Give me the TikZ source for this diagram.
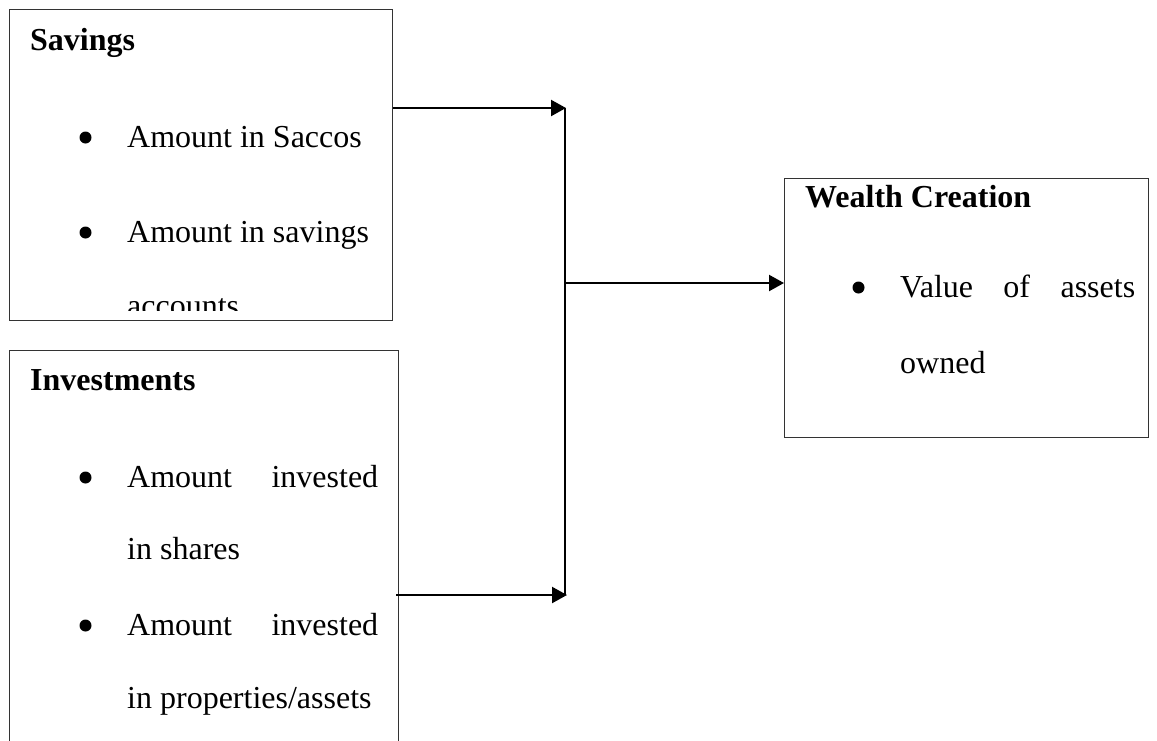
\documentclass[tikz,border=0pt]{standalone}
\usepackage{fontspec}
\setmainfont{Liberation Serif}
\usetikzlibrary{arrows.meta}
\tikzset{
  box/.style={draw=black!80, line width=1.3pt, rectangle, inner sep=0pt, anchor=north west},
  txt/.style={anchor=base west, inner sep=0pt, font=\fontsize{32}{32}\selectfont},
  head/.style={txt, font=\fontsize{32}{32}\selectfont\bfseries},
  bul/.style={circle, fill=black, inner sep=0pt, minimum size=12pt},
  conn/.style={line width=2.2pt, black},
  arr/.style={conn, -{Triangle[length=15pt,width=16pt]}}
}
\begin{document}
\begin{tikzpicture}[x=1pt,y=-1pt]
\useasboundingbox (0,0) rectangle (1157,740);
\clip (0,0) rectangle (1157,740);
% boxes
\node[box, minimum width=383pt, minimum height=311pt] (sav) at (9,9) {};
\node[box, minimum width=389pt, minimum height=420pt] (inv) at (9,350) {};
\node[box, minimum width=364pt, minimum height=259pt] (wel) at (784,178) {};
% savings text
\begin{scope}
\clip (9,9) rectangle (392,310);
\node[head] (savh) at (30,50) {Savings};
\node[bul] (sb1) at (85.5,137.5) {};
\node[txt] (st1) at (127,147) {Amount in Saccos};
\node[bul] (sb2) at (85.5,232.5) {};
\node[txt] (st2) at (127,242) {Amount in savings};
\node[txt] (st3) at (127,316) {accounts};
\end{scope}
% investments text
\node[head] (invh) at (30,390) {Investments};
\node[bul] (ib1) at (85.5,477.5) {};
\node[txt] (it1) at (127,487) {\hbox to 251pt{Amount\hfill invested}};
\node[txt] (it2) at (127,559) {in shares};
\node[bul] (ib2) at (85.5,625.5) {};
\node[txt] (it3) at (127,635) {\hbox to 251pt{Amount\hfill invested}};
\node[txt] (it4) at (127,708) {in properties/assets};
% wealth text
\node[head] (welh) at (805,207) {Wealth Creation};
\node[bul] (wb1) at (858.5,287.5) {};
\node[txt] (wt1) at (900,297) {\hbox to 235pt{Value\hfill of\hfill assets}};
\node[txt] (wt2) at (900,373) {owned};
% connectors
\coordinate (j1) at (565,108);
\coordinate (j2) at (565,595);
\coordinate (jm) at (565,283);
\draw[arr] (j1 -| sav.east) -- ([xshift=1pt]j1);
\draw[arr] ([xshift=-3pt]j2 -| inv.east) -- ([xshift=2pt]j2);
\draw[conn] (j1) -- (j2);
\draw[arr] (jm) -- (jm -| wel.west);
\end{tikzpicture}
\end{document}
